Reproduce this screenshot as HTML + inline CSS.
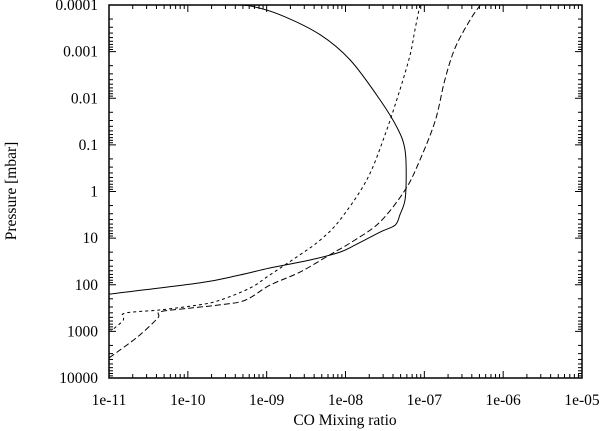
<!DOCTYPE html>
<html><head><meta charset="utf-8"><style>
html,body{margin:0;padding:0;background:#fff;}
svg{display:block;font-family:"Liberation Serif",serif;}
</style></head><body>
<svg id="chart" width="603" height="431" viewBox="0 0 603 431" xmlns="http://www.w3.org/2000/svg">
<defs><clipPath id="pc"><rect x="109" y="5" width="473" height="373"/></clipPath></defs>
<g id="grid"></g>
<g id="series" clip-path="url(#pc)"></g>
<rect x="109" y="5" width="473" height="373" fill="none" stroke="#000" stroke-width="1.5"/>
<text x="345" y="425" font-size="15.5" text-anchor="middle">CO Mixing ratio</text>
<text transform="translate(16,191) rotate(-90)" font-size="15.5" text-anchor="middle">Pressure [mbar]</text>
</svg>
<script>
const xTickLabels=["1e-11","1e-10","1e-09","1e-08","1e-07","1e-06","1e-05"];
const yTickLabels=["0.0001","0.001","0.01","0.1","1","10","100","1000","10000"];
const solidLogCO=[-9.465,-9.211,-8.83,-8.32,-7.94,-7.56,-7.33,-7.245,-7.23,-7.245,-7.31,-7.37,-7.56,-7.88,-8.07,-8.45,-8.96,-9.34,-9.85,-11];
const solidLogP=[-4,-3.98,-3.79,-3.36,-2.82,-1.96,-1.32,-0.89,-0.35,0.18,0.50,0.72,0.87,1.15,1.30,1.47,1.64,1.79,1.96,2.20];
const dottedLogCO=[-7.055,-7.12,-7.18,-7.31,-7.50,-7.73,-8.07,-8.32,-8.58,-8.96,-9.21,-9.59,-9.85,-10.35,-10.80,-10.82,-10.96,-11];
const dottedLogP=[-4,-3.46,-2.93,-2.18,-1.21,-0.25,0.61,1.04,1.36,1.79,2.07,2.33,2.43,2.54,2.61,2.76,2.97,3.01];
const dashedLogCO=[-6.29,-6.42,-6.61,-6.74,-6.86,-7.055,-7.245,-7.56,-7.88,-8.20,-8.58,-8.96,-9.27,-9.59,-9.97,-10.35,-10.38,-10.61,-10.86,-11];
const dashedLogP=[-4,-3.68,-3.08,-2.39,-1.53,-0.68,-0.03,0.65,1.04,1.36,1.73,2.01,2.33,2.43,2.50,2.58,2.71,3.08,3.40,3.57];

const L=109,R=582,T=5,B=378,xmin=-11,xmax=-5,ymin=-4,ymax=4;
const sx=v=>L+(v-xmin)/(xmax-xmin)*(R-L);
const sy=v=>T+(v-ymin)/(ymax-ymin)*(B-T);
const NS="http://www.w3.org/2000/svg";
const grid=document.getElementById('grid'),ser=document.getElementById('series');
function mk(tag,attrs,parent){const e=document.createElementNS(NS,tag);for(const k in attrs)e.setAttribute(k,attrs[k]);parent.appendChild(e);return e;}
for(let d=0;d<xTickLabels.length;d++){
  const v=xmin+d;
  for(let m=1;m<=9;m++){
    if(d===xTickLabels.length-1&&m>1)break;
    const x=sx(v+Math.log10(m)),len=m===1?7:4;
    const t1=mk('line',{x1:x,y1:B,x2:x,y2:B-len,stroke:'#000','stroke-width':1},grid);
    
    
    const t2=mk('line',{x1:x,y1:T,x2:x,y2:T+len,stroke:'#000','stroke-width':1},grid);
    
    
  }
  const tx=mk('text',{x:sx(v),y:405,'font-size':15.5,'text-anchor':'middle'},grid);
  tx.textContent=xTickLabels[d];
  
  
}
for(let d=0;d<yTickLabels.length;d++){
  const v=ymin+d;
  for(let m=1;m<=9;m++){
    if(d===yTickLabels.length-1&&m>1)break;
    const y=sy(v+Math.log10(m)),len=m===1?7:4;
    const t1=mk('line',{x1:L,y1:y,x2:L+len,y2:y,stroke:'#000','stroke-width':1},grid);
    
    
    const t2=mk('line',{x1:R,y1:y,x2:R-len,y2:y,stroke:'#000','stroke-width':1},grid);
    
    
  }
  const ty=mk('text',{x:98,y:sy(v)+5,'font-size':15.5,'text-anchor':'end'},grid);
  ty.textContent=yTickLabels[d];
  
  
}
function line(xs,ys,dash,name){
  const P=xs.map((x,i)=>[sx(x),sy(ys[i])]);
  let d='M'+P[0][0].toFixed(1)+','+P[0][1].toFixed(1);
  for(let i=0;i<P.length-1;i++){
    const p0=P[i-1]||P[i],p1=P[i],p2=P[i+1],p3=P[i+2]||p2;
    const c1=[p1[0]+(p2[0]-p0[0])/6,p1[1]+(p2[1]-p0[1])/6];
    const c2=[p2[0]-(p3[0]-p1[0])/6,p2[1]-(p3[1]-p1[1])/6];
    d+=' C'+c1.map(n=>n.toFixed(1)).join(',')+' '+c2.map(n=>n.toFixed(1)).join(',')+' '+p2.map(n=>n.toFixed(1)).join(',');
  }
  const p=mk('path',{d:d,fill:'none',stroke:'#000','stroke-width':1,'stroke-dasharray':dash},ser);
  
  
}
line(solidLogCO,solidLogP,'none','solid-profile');
line(dottedLogCO,dottedLogP,'3,3','dotted-profile');
line(dashedLogCO,dashedLogP,'6,3','dashed-profile');
</script>
</body></html>
